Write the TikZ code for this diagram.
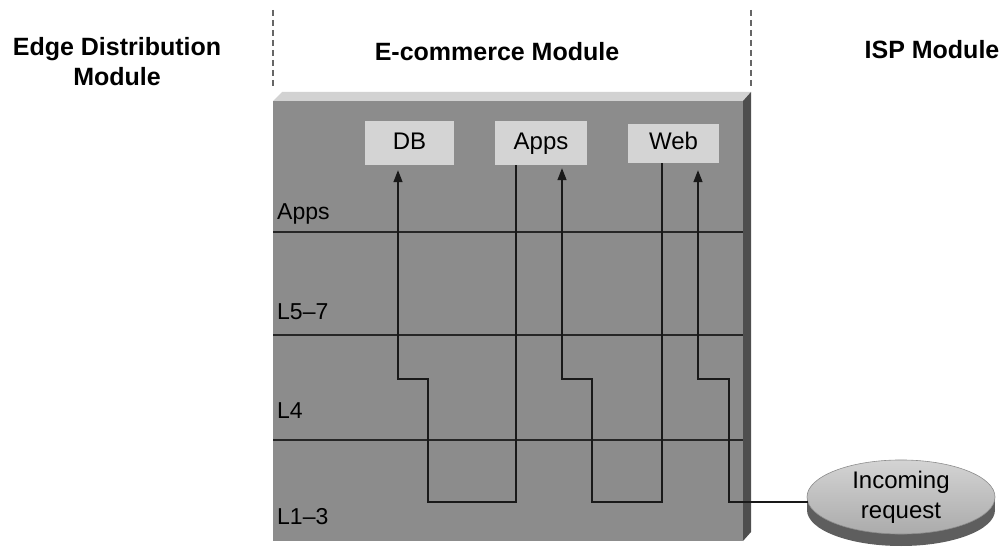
\documentclass[tikz,border=0pt]{standalone}
\usepackage{fontspec}
\setmainfont{Liberation Sans}
\usetikzlibrary{arrows.meta,shapes.geometric}
\definecolor{frontgray}{HTML}{8C8C8C}
\definecolor{topgray}{HTML}{D2D2D2}
\definecolor{sidegray}{HTML}{4E4E4E}
\definecolor{boxgray}{HTML}{D4D4D4}
\definecolor{diskside}{HTML}{5E5E5E}
\begin{document}
\begin{tikzpicture}[x=1pt,y=-1pt,
  header/.style={font=\fontsize{25}{30}\selectfont\bfseries, align=center, inner sep=0pt},
  layerlabel/.style={font=\fontsize{23}{26}\selectfont, anchor=west, inner sep=0pt},
  serverbox/.style={fill=boxgray, draw=none, font=\fontsize{24}{26}\selectfont, inner sep=0pt,
                    text height=17.5pt, text depth=5pt},
  layerline/.style={line width=2.6pt, black!85},
  thinline/.style={line width=1.7pt, black!85},
  flow/.style={line width=1.5pt, black!90},
  flowarrow/.style={flow, -{Triangle[length=12pt,width=9pt]}},
  divider/.style={dashed, dash pattern=on 6pt off 4pt, line width=1.1pt, black!60}
]
\useasboundingbox (0,0) rectangle (1004,553);

% headers
\node[header] (edge) at (117,62) {Edge Distribution\\Module};
\node[header] (ecom) at (497,52) {E-commerce Module};
\node[header] (isp) at (932,50) {ISP Module};

% dashed dividers
\coordinate (d1t) at (273,10); \coordinate (d1b) at (273,86);
\coordinate (d2t) at (751,10); \coordinate (d2b) at (751,86);
\draw[divider] (d1t) -- (d1b);
\draw[divider] (d2t) -- (d2b);

% 3D box
\fill[topgray] (273,101) -- (282,92) -- (751,92) -- (743,101) -- cycle;
\fill[sidegray] (743,101) -- (751,92) -- (751,532) -- (743,541) -- cycle;
\fill[frontgray] (273,101) rectangle (743,541);

% layer lines
\coordinate (l1a) at (273,232); \coordinate (l1b) at (743,232);
\coordinate (l2a) at (273,335); \coordinate (l2b) at (743,335);
\coordinate (l3a) at (273,440); \coordinate (l3b) at (743,440);
\draw[layerline] (l1a) -- (l1b);
\draw[layerline] (l2a) -- (l2b);
\draw[thinline] (l3a) -- (l3b);

% layer labels
\node[layerlabel] (lapps) at (277,214) {Apps};
\node[layerlabel] (l57) at (277,312) {L5–7};
\node[layerlabel] (l4) at (277,411) {L4};
\node[layerlabel] (l13) at (277,517) {L1–3};

% server boxes
\node[serverbox, minimum width=89pt, minimum height=44pt] (db) at (409.5,143) {DB};
\node[serverbox, minimum width=92pt, minimum height=44pt] (apps) at (541,143) {Apps};
\node[serverbox, minimum width=91pt, minimum height=39pt] (web) at (673.5,143.5) {Web};

% incoming request disk
\fill[diskside] (901,510) ellipse [x radius=94, y radius=36];
\fill[diskside] (807,497) rectangle (995,510);
\node[ellipse, minimum width=188pt, minimum height=72pt, inner sep=0pt,
      top color=black!17, bottom color=black!33, draw=black!45, line width=0.6pt,
      align=center, font=\fontsize{24}{30}\selectfont] (req) at (901,497) {Incoming\\request};

% flows
\draw[flowarrow] ([xshift=-25pt]apps.south) -- (516,502) -- (428,502) -- (428,379) -- (398,379) -- ([xshift=-11.5pt,yshift=-5pt]db.south);
\draw[flowarrow] ([xshift=-11.5pt]web.south) -- (662,502) -- (592,502) -- (592,379) -- (562,379) -- ([xshift=21pt,yshift=-3pt]apps.south);
\draw[flowarrow] ([xshift=1pt,yshift=-5pt]req.west) -- (729,502) -- (729,379) -- (698,379) -- ([xshift=24.5pt,yshift=-7pt]web.south);
\end{tikzpicture}
\end{document}
